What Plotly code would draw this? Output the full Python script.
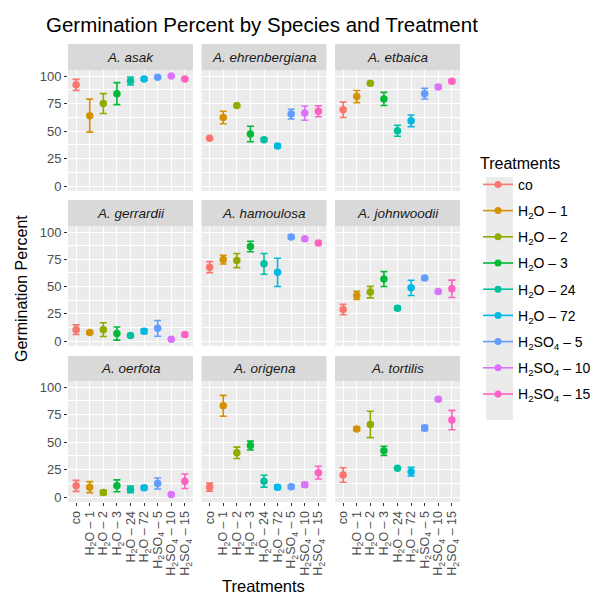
import plotly.graph_objects as go

# treatment levels and display labels
treatments = ["co", "H2O-1", "H2O-2", "H2O-3", "H2O-24", "H2O-72",
              "H2SO4-5", "H2SO4-10", "H2SO4-15"]
tick_labels = ["co", "H<sub>2</sub>O – 1", "H<sub>2</sub>O – 2", "H<sub>2</sub>O – 3",
               "H<sub>2</sub>O – 24", "H<sub>2</sub>O – 72", "H<sub>2</sub>SO<sub>4</sub> – 5",
               "H<sub>2</sub>SO<sub>4</sub> – 10", "H<sub>2</sub>SO<sub>4</sub> – 15"]
colors = ["#F8766D", "#D39200", "#93AA00", "#00BA38", "#00C19F",
          "#00B9E3", "#619CFF", "#DB72FB", "#FF61C3"]

species = ["A. asak", "A. ehrenbergiana", "A. etbaica",
           "A. gerrardii", "A. hamoulosa", "A. johnwoodii",
           "A. oerfota", "A. origena", "A. tortilis"]

# mean germination percent per species (order of treatments)
means = {
    "A. asak":          [92, 64, 75, 84, 95.5, 97.3, 99, 100, 97.3],
    "A. ehrenbergiana": [43.4, 62.3, 73.2, 47.3, 42.2, 36.4, 65.4, 66.3, 68],
    "A. etbaica":       [69.3, 81.3, 93.4, 79.2, 50.3, 59.3, 84, 90, 95.2],
    "A. gerrardii":     [10.5, 7.8, 10.5, 6.9, 5.1, 9, 11.7, 1.8, 6],
    "A. hamoulosa":     [67.8, 74.7, 73.8, 86.7, 70.8, 63, 95.5, 93.7, 90],
    "A. johnwoodii":    [28.9, 41.9, 44.9, 56.9, 30.1, 48.8, 57.8, 45.5, 47.9],
    "A. oerfota":       [10.2, 9, 4.2, 10.2, 6.9, 8.4, 12.3, 2.4, 14.4],
    "A. origena":       [9, 82.9, 40.2, 46.8, 14.4, 9, 9.3, 11.1, 22.2],
    "A. tortilis":      [20.1, 61.9, 66, 42, 26.1, 23.1, 62.8, 88.9, 70],
}
# standard error
errors = {
    "A. asak":          [5, 15, 9, 10, 3.7, 1, 0, 0, 1],
    "A. ehrenbergiana": [0, 5.7, 1, 7, 1.5, 1.5, 4.4, 6.5, 5],
    "A. etbaica":       [7, 5.5, 1, 6, 5, 5.3, 4.8, 1.5, 1.5],
    "A. gerrardii":     [4.4, 1.5, 6.3, 6, 1.5, 2, 7.2, 0, 1.5],
    "A. hamoulosa":     [5, 4, 6.5, 4.8, 9.5, 13, 1.5, 1.5, 1.5],
    "A. johnwoodii":    [4.8, 3.8, 5.3, 6.8, 1.5, 7, 1.5, 1.5, 8],
    "A. oerfota":       [5, 5, 2, 5.4, 3, 1.5, 5, 0, 6.6],
    "A. origena":       [3.7, 9.5, 5.2, 4, 5.4, 2, 1.5, 2, 5.8],
    "A. tortilis":      [6.6, 1.5, 12, 4.2, 0.5, 3.9, 2.5, 1.5, 8.8],
}

W, H = 600, 600
col_px = [(60, 185), (193.5, 318.5), (327, 452)]
row_px = [(36, 62, 183), (192, 218, 338), (348, 373, 494)]  # strip top, panel top, panel bottom


def px_x(v):
    return v / W


def px_y(v):
    return 1 - v / H


fig = go.Figure()
shapes = []
annotations = []

for i, sp in enumerate(species):
    r, c = divmod(i, 3)
    n = i + 1
    xa = "xaxis" if n == 1 else f"xaxis{n}"
    ya = "yaxis" if n == 1 else f"yaxis{n}"
    xref = "x" if n == 1 else f"x{n}"
    yref = "y" if n == 1 else f"y{n}"
    x0, x1 = col_px[c]
    st, pt, pb = row_px[r]

    for j, t in enumerate(treatments):
        fig.add_trace(go.Scatter(
            x=[j], y=[means[sp][j]],
            mode="markers",
            marker=dict(color=colors[j], size=7.5),
            error_y=dict(type="data", array=[errors[sp][j]], color=colors[j],
                         thickness=1.6, width=3.5),
            xaxis=xref, yaxis=yref, showlegend=False,
            hovertemplate=f"{sp}<br>{t}: %{{y}}<extra></extra>",
        ))

    bottom = r == 2
    left = c == 0
    xaxis = dict(
        domain=[px_x(x0), px_x(x1)], anchor=yref, range=[-0.6, 8.6],
        showticklabels=bottom, tickangle=-90,
        tickfont=dict(size=12.5, color="#4D4D4D"),
        ticks="outside" if bottom else "", ticklen=3, tickcolor="#333333", tickwidth=1,
        showgrid=True, gridcolor="white", gridwidth=1.1,
        zeroline=False, showline=False, automargin=False, fixedrange=True,
    )
    if bottom:
        xaxis.update(tickmode="array", tickvals=list(range(9)), ticktext=tick_labels)
    else:
        xaxis.update(tickmode="linear", tick0=0, dtick=1)
    fig.layout[xa] = xaxis
    fig.layout[ya] = dict(
        domain=[px_y(pb), px_y(pt)], anchor=xref, range=[-4.5, 105.5],
        tickmode="linear", tick0=0, dtick=25,
        showticklabels=left,
        tickfont=dict(size=13, color="#4D4D4D"),
        ticks="outside" if left else "", ticklen=3, tickcolor="#333333",
        showgrid=True, gridcolor="white", gridwidth=1.1,
        minor=dict(dtick=12.5, tick0=0, showgrid=True, gridcolor="white",
                   gridwidth=0.5, ticks=""),
        zeroline=False, showline=False, automargin=False, fixedrange=True,
    )
    # panel background
    shapes.append(dict(type="rect", xref="paper", yref="paper", layer="below",
                       x0=px_x(x0), x1=px_x(x1), y0=px_y(pb), y1=px_y(pt),
                       fillcolor="#EBEBEB", line=dict(width=0)))
    # strip
    shapes.append(dict(type="rect", xref="paper", yref="paper", layer="below",
                       x0=px_x(x0), x1=px_x(x1), y0=px_y(pt), y1=px_y(st),
                       fillcolor="#D9D9D9", line=dict(width=0)))
    annotations.append(dict(text=f"<i>{sp}</i>", xref="paper", yref="paper",
                            x=px_x((x0 + x1) / 2), y=px_y((st + pt) / 2),
                            showarrow=False, xanchor="center", yanchor="middle",
                            font=dict(size=13.5, color="#1A1A1A")))

# legend entries (line + dot keys)
for j, t in enumerate(treatments):
    fig.add_trace(go.Scatter(
        x=[None], y=[None], mode="lines+markers", name=tick_labels[j],
        marker=dict(color=colors[j], size=7), line=dict(color=colors[j], width=1.6),
        legendgroup=t, showlegend=True, hoverinfo="skip",
    ))

# grey background behind legend keys
shapes.append(dict(type="rect", xref="paper", yref="paper", layer="below",
                   x0=px_x(478), x1=px_x(505), y0=px_y(412), y1=px_y(169),
                   fillcolor="#EBEBEB", line=dict(width=0)))

annotations.append(dict(text="Germination Percent", xref="paper", yref="paper",
                        x=px_x(14), y=px_y(281), textangle=-90, showarrow=False,
                        xanchor="center", yanchor="middle",
                        font=dict(size=16, color="black")))
annotations.append(dict(text="Treatments", xref="paper", yref="paper",
                        x=px_x(255), y=px_y(578), showarrow=False,
                        xanchor="center", yanchor="middle",
                        font=dict(size=16.5, color="black")))

fig.update_layout(
    width=W, height=H,
    margin=dict(l=0, r=0, t=0, b=0),
    paper_bgcolor="white", plot_bgcolor="rgba(0,0,0,0)",
    font=dict(family="Liberation Sans, Arial, sans-serif"),
    title=dict(text="Germination Percent by Species and Treatment",
               x=px_x(38), xanchor="left", y=px_y(17), yanchor="middle",
               pad=dict(l=0, r=0, t=0, b=0),
               font=dict(size=20.5, color="black")),
    shapes=shapes, annotations=annotations,
    showlegend=True,
    legend=dict(
        title=dict(text="Treatments", font=dict(size=16, color="black")),
        x=px_x(470), y=px_y(140), xanchor="left", yanchor="top",
        font=dict(size=14, color="black"), bgcolor="rgba(0,0,0,0)",
        tracegroupgap=5, itemwidth=30,
    ),
)

fig.write_html("out.html")
